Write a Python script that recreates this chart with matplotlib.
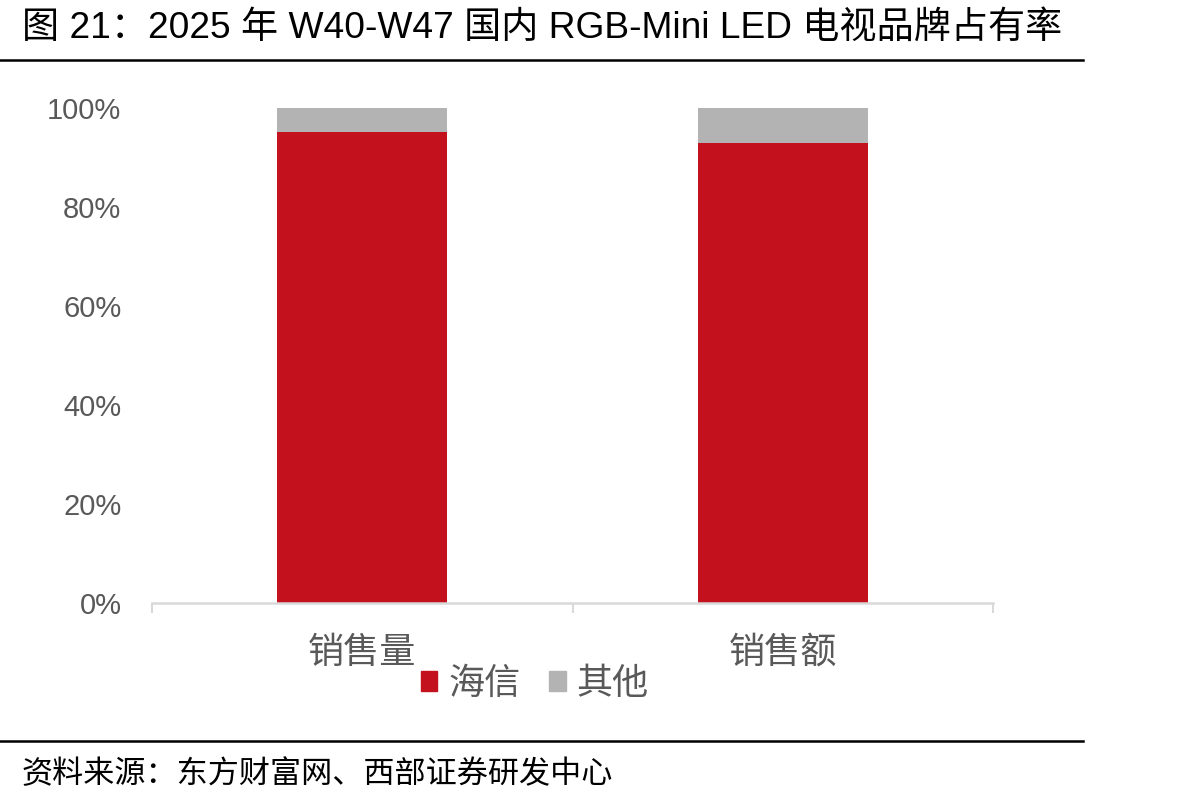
import matplotlib

matplotlib.use("Agg")

import matplotlib.pyplot as plt
from matplotlib.patches import Patch

plt.rcParams["font.family"] = ["Liberation Sans", "Noto Sans CJK SC", "DejaVu Sans"]

TITLE = "图 21：2025 年 W40-W47 国内 RGB-Mini LED 电视品牌占有率"
SOURCE = "资料来源：东方财富网、西部证券研发中心"
categories = ["销售量", "销售额"]
hisense = [0.952, 0.929]
others = [0.048, 0.071]
series_names = ["海信", "其他"]
y_ticks = [0, 0.2, 0.4, 0.6, 0.8, 1.0]
y_tick_labels = ["0%", "20%", "40%", "60%", "80%", "100%"]

RED = "#C3111E"
GRAY = "#B3B3B3"
AXIS = "#D9D9D9"
TEXT = "#595959"

W, H = 1204, 807
fig = plt.figure(figsize=(W / 100, H / 100), dpi=100)
ax = fig.add_axes([152 / W, 1 - 603 / H, (993 - 152) / W, (603 - 108) / H])

x = list(range(len(categories)))
ax.bar(x, hisense, width=0.405, color=RED, label=series_names[0])
ax.bar(x, others, width=0.405, bottom=hisense, color=GRAY, label=series_names[1])

ax.set_xlim(-0.5, 1.5)
ax.set_ylim(0, 1)
ax.set_yticks(y_ticks)
ax.set_yticklabels(y_tick_labels, fontsize=21, color=TEXT)
ax.tick_params(axis="y", length=0, pad=22)
ax.set_xticks(x)
ax.set_xticklabels(categories, fontsize=26, color=TEXT, family=["Noto Sans CJK SC"])
ax.tick_params(axis="x", which="major", length=0, pad=23)
ax.set_xticks([-0.5, 0.5, 1.5], minor=True)
ax.tick_params(axis="x", which="minor", length=7, width=1.5, color=AXIS)

for side in ["top", "right", "left"]:
    ax.spines[side].set_visible(False)
ax.spines["bottom"].set_color(AXIS)
ax.spines["bottom"].set_linewidth(1.8)

handles = [Patch(color=RED, label=series_names[0]), Patch(color=GRAY, label=series_names[1])]
fig.legend(
    handles=handles,
    loc="center",
    bbox_to_anchor=(535 / W, 1 - 684 / H),
    ncol=2,
    frameon=False,
    prop={"family": "Noto Sans CJK SC", "size": 26},
    labelcolor=TEXT,
    handlelength=0.45,
    handleheight=0.45,
    handletextpad=0.3,
    columnspacing=0.8,
)

fig.text(22 / W, 1 - 28 / H, TITLE, fontsize=26.7, va="center", ha="left", color="black")
fig.add_artist(plt.Line2D([0, 1083 / W], [1 - 60 / H] * 2, color="black", linewidth=1.8))
fig.add_artist(plt.Line2D([0, 1083 / W], [1 - 741 / H] * 2, color="black", linewidth=1.8))
fig.text(22 / W, 1 - 775 / H, SOURCE, fontsize=22.4, va="center", ha="left", color="black",
         family=["Noto Sans CJK SC"])

fig.savefig("out.png", dpi=100)
